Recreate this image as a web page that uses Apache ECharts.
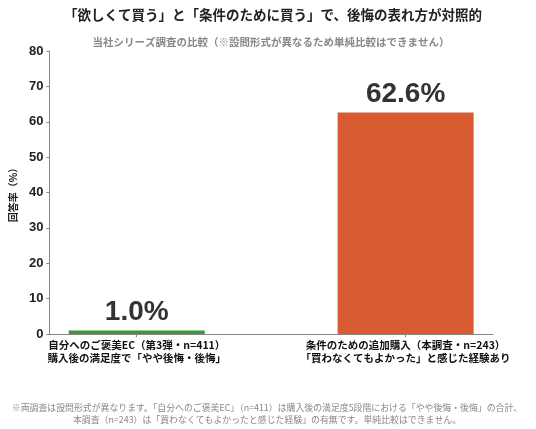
<!DOCTYPE html>
<html>
<head>
<meta charset="utf-8">
<title>ECharts</title>
<script src="https://cdn.jsdelivr.net/npm/echarts@6/dist/echarts.min.js"></script>
<style>
  html, body { margin: 0; padding: 0; background: #fff; }
  #main { width: 536px; height: 429px; }
</style>
</head>
<body>
<div id="main"></div>
<script type="text/javascript">
// data
var categories = [
  '自分へのご褒美EC（第3弾・n=411）\n購入後の満足度で「やや後悔・後悔」',
  '条件のための追加購入（本調査・n=243）\n「買わなくてもよかった」と感じた経験あり'
];
var positions = [0, 1];
var values = [1.0, 62.6];
var yTicks = [0, 10, 20, 30, 40, 50, 60, 70, 80];

var barColors = ['#3a973a', '#d95b32'];
var jp = "'Noto Sans CJK JP', sans-serif";
var num = "'Liberation Sans', 'Noto Sans CJK JP', sans-serif";

var myChart = echarts.init(document.getElementById('main'));

var option = {
  backgroundColor: '#fff',
  animation: false,
  title: [{
    text: '「欲しくて買う」と「条件のために買う」で、後悔の表れ方が対照的',
    left: 268, top: 3, textAlign: 'center',
    textStyle: { fontFamily: jp, fontSize: 13.5, fontWeight: 'bold', color: '#222' }
  }, {
    text: '当社シリーズ調査の比較（※設問形式が異なるため単純比較はできません）',
    left: 266, top: 32, textAlign: 'center',
    textStyle: { fontFamily: jp, fontSize: 10.5, fontWeight: 'bold', color: '#888' }
  }, {
    text: '※両調査は設問形式が異なります。「自分へのご褒美EC」（n=411）は購入後の満足度5段階における「やや後悔・後悔」の合計、\n本調査（n=243）は「買わなくてもよかったと感じた経験」の有無です。単純比較はできません。',
    left: 262, top: 397, textAlign: 'center',
    textStyle: { fontFamily: jp, fontSize: 8.9, fontWeight: 'normal', color: '#888', lineHeight: 12 }
  }],
  grid: { left: 44, right: 43, top: 51, bottom: 95 },
  xAxis: {
    type: 'value',
    min: -0.325,
    max: 1.325,
    splitLine: { show: false },
    axisLine: { show: true, onZero: false, lineStyle: { color: '#888' } },
    axisTick: { show: true, customValues: positions, length: 3, lineStyle: { color: '#888' } },
    axisLabel: {
      customValues: positions,
      margin: 5,
      fontFamily: jp, fontSize: 10.5, fontWeight: 'bold', color: '#111', lineHeight: 13,
      formatter: function (v) { return categories[Math.round(v)]; }
    }
  },
  yAxis: {
    type: 'value',
    min: yTicks[0],
    max: yTicks[yTicks.length - 1],
    interval: 10,
    name: '回答率（%）',
    nameLocation: 'middle',
    nameGap: 31,
    nameTextStyle: { fontFamily: jp, fontSize: 10, fontWeight: 'bold', color: '#222' },
    splitLine: { show: false },
    axisLine: { show: true, onZero: false, lineStyle: { color: '#888' } },
    axisTick: { show: true, length: 3, lineStyle: { color: '#888' } },
    axisLabel: { margin: 6, fontFamily: num, fontSize: 13, fontWeight: 'bold', color: '#222' }
  },
  series: [{
    type: 'bar',
    barWidth: 136,
    data: values.map(function (v, i) {
      return { value: [positions[i], v], itemStyle: { color: barColors[i] } };
    }),
    label: {
      show: true,
      position: 'top',
      distance: 4,
      fontFamily: num, fontSize: 28, fontWeight: 'bold', color: '#333',
      formatter: function (p) { return p.value[1].toFixed(1) + '%'; }
    }
  }]
};

myChart.setOption(option);
</script>
</body>
</html>
